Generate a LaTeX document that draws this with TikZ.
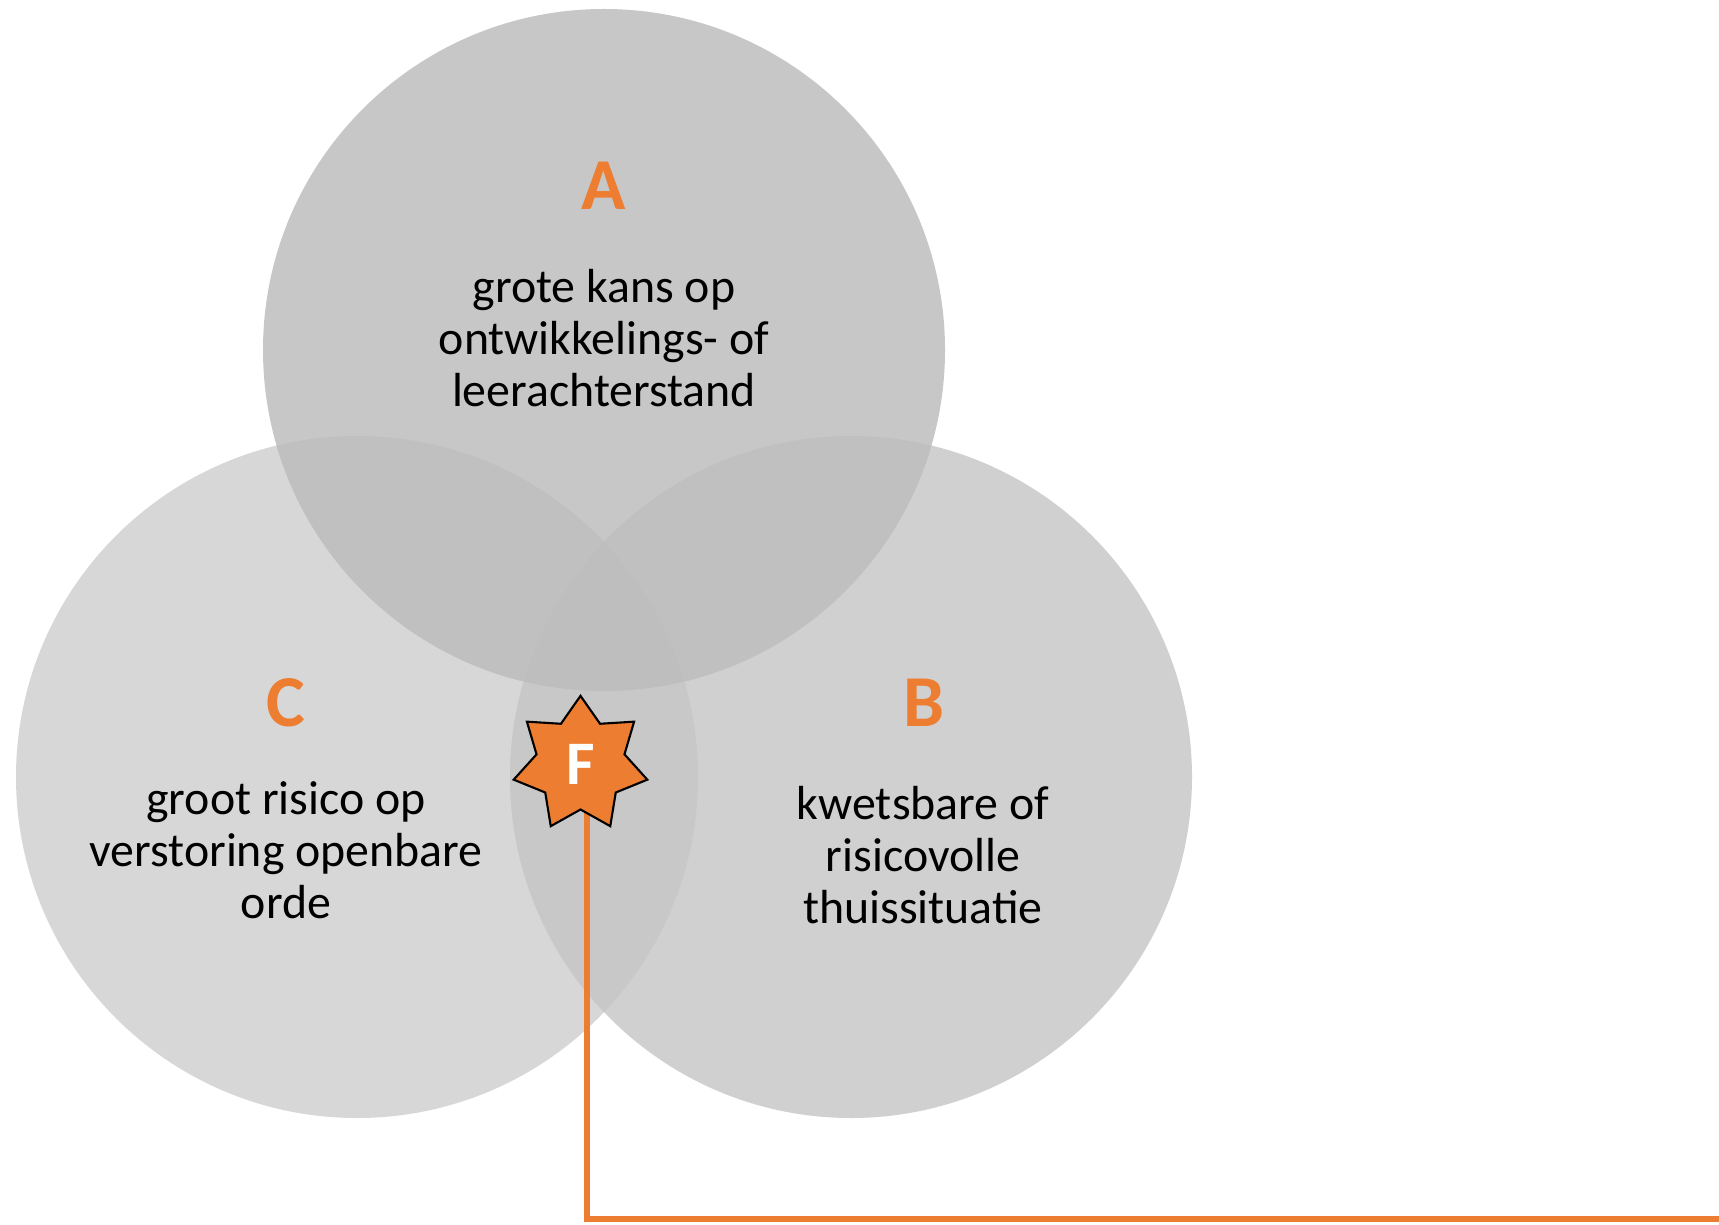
\documentclass[tikz,border=0pt]{standalone}
\usepackage{fontspec}
\setmainfont{Carlito}
\usepackage{tikz}
\usetikzlibrary{shapes.geometric,backgrounds,positioning}
\definecolor{vorange}{HTML}{ED7D31}
\definecolor{greyA}{HTML}{C7C7C7}
\definecolor{greyB}{HTML}{D0D0D0}
\definecolor{greyC}{HTML}{D7D7D7}
\definecolor{greyAB}{HTML}{C0C0C0}
\definecolor{greyAC}{HTML}{C0C0C0}
\definecolor{greyBC}{HTML}{C8C8C8}
\definecolor{greyABC}{HTML}{BEBEBE}

\begin{document}
\begin{tikzpicture}[x=0.01cm,y=-0.01cm]

\tikzset{letter/.style={font=\fontsize{20.8}{25}\selectfont\bfseries,text=vorange},
bodytext/.style={font=\fontsize{13.6}{14.8}\selectfont,align=center,inner sep=0pt},
fstar/.style={shape=star,star points=7,star point ratio=1.52,minimum size=1.37cm,inner sep=0pt,fill=vorange,draw=black,line width=0.6pt,text=white,font=\fontsize{17.6}{20}\selectfont\bfseries},
fline/.style={draw=vorange,line width=1.7pt}}

\useasboundingbox (0,0) rectangle (1719,1225);

\def\venncircA{(604,350) circle (341)}
\def\venncircB{(851,777) circle (341)}
\def\venncircC{(357,777) circle (341)}

% letters
\node[letter] (lblA) at (604,186) {A};
\node[letter] (lblB) at (924,703) {B};
\node[letter] (lblC) at (286,703) {C};

% texts
\node[bodytext] (txtA) at (604,338) {grote kans op\\ontwikkelings- of\\leerachterstand};
\node[bodytext] (txtB) at (923,855) {kwetsbare of\\risicovolle\\thuissituatie};
\node[bodytext] (txtC) at (286,850) {groot risico op\\verstoring openbare\\orde};

% star
\node[fstar] (F) at (580.5,764.4) {F};
\coordinate (lineEnd) at (1719,1219);

\begin{scope}[on background layer]
% circles
\fill[greyC] \venncircC; \fill[greyB] \venncircB; \fill[greyA] \venncircA;
\begin{scope} \clip \venncircA; \fill[greyAC] \venncircC; \fill[greyAB] \venncircB; \end{scope}
\begin{scope} \clip \venncircB; \fill[greyBC] \venncircC; \end{scope}
\begin{scope} \clip \venncircA; \clip \venncircB; \fill[greyABC] \venncircC; \end{scope}
% connector
\draw[fline] ([xshift=0.065cm]F.center) |- (lineEnd);
\end{scope}

\end{tikzpicture}
\end{document}
